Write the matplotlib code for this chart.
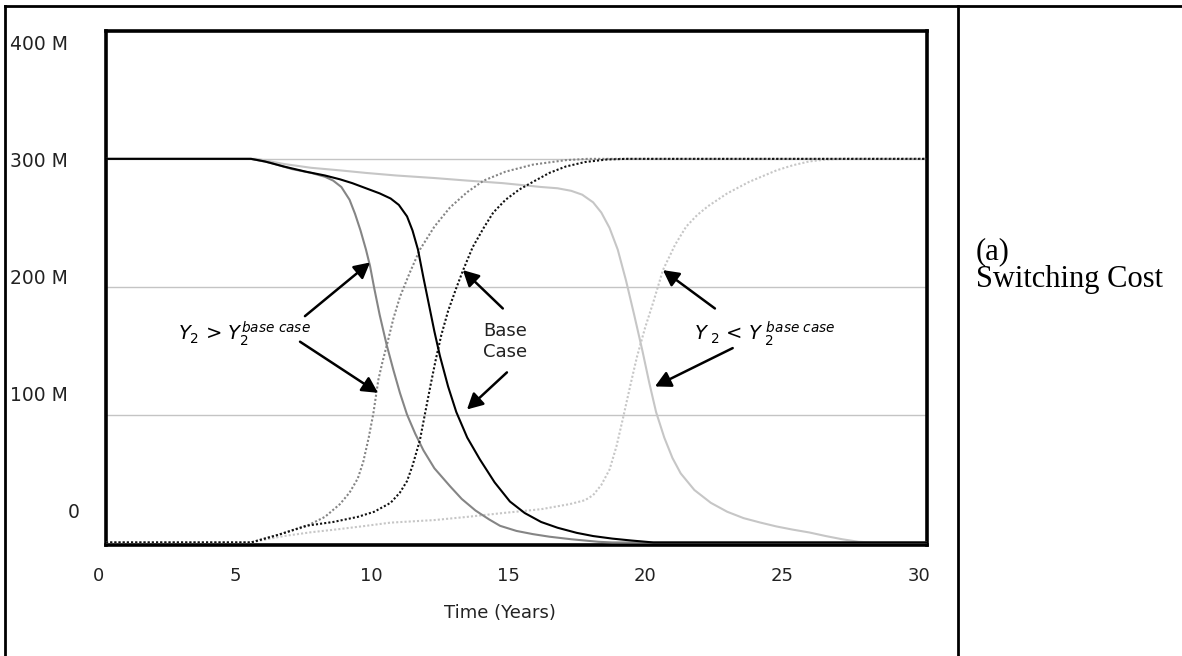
import numpy as np
import matplotlib
matplotlib.use("Agg")
import matplotlib.pyplot as plt
from matplotlib.lines import Line2D
from matplotlib.transforms import ScaledTranslation

plt.rcParams['font.family'] = ['DejaVu Sans']
plt.rcParams['mathtext.fontset'] = 'custom'
plt.rcParams['mathtext.it'] = 'DejaVu Sans:italic'
plt.rcParams['mathtext.rm'] = 'DejaVu Sans'
plt.rcParams['mathtext.sf'] = 'DejaVu Sans'

# ---------------- data (values in millions, time in years) ----------------
base_down_t = [0, 5.3, 5.8, 6.5, 7.3, 8.0, 8.55, 9.0, 9.5, 10.0, 10.4, 10.7, 11.0, 11.2, 11.4,
               11.6, 11.8, 12.0, 12.2, 12.5, 12.8, 13.2, 13.66, 14.2, 14.76, 15.3, 15.9, 16.5,
               17.2, 17.8, 18.5, 19.2, 20.0, 30]
base_down_v = [300, 300, 298, 294, 290, 287, 284, 281, 277, 273, 269, 264, 255, 244, 229,
               207, 186, 165, 146, 122, 102, 82, 65, 47, 32, 23, 16, 11.5,
               7.5, 5, 3, 1.5, 0, 0]

high_down_t = [0, 5.3, 6.0, 6.8, 7.5, 8.0, 8.3, 8.6, 8.9, 9.1, 9.3, 9.5, 9.65, 9.8, 10.0,
               10.25, 10.5, 10.74, 11.0, 11.3, 11.6, 12.0, 12.57, 13.0, 13.5, 14.0, 14.4,
               15.0, 15.6, 16.2, 17.0, 18.0, 18.5, 30]
high_down_v = [300, 300, 297, 292, 289, 286, 283, 278, 268, 257, 244, 229, 216, 199, 178,
               155, 135, 117, 100, 85, 72, 58, 44, 34, 25, 18, 13,
               9, 6.5, 4.5, 2.5, 0.5, 0, 0]

low_down_t = [0, 5.5, 6.0, 6.5, 7.5, 8.55, 9.5, 10.6, 12.0, 13.2, 14.5, 15.9, 16.5, 17.0,
              17.4, 17.8, 18.1, 18.4, 18.7, 19.0, 19.3, 19.6, 19.85, 20.1, 20.4, 20.7, 21.0,
              21.5, 22.1, 22.7, 23.3, 23.9, 24.5, 25.1, 25.7, 26.3, 26.9, 27.5, 28.0, 30]
low_down_v = [300, 300, 298, 296, 293, 291, 289, 287, 285, 283, 281, 278, 277, 275,
              272, 266, 258, 246, 229, 205, 178, 150, 125, 102, 82, 66, 54,
              41, 31, 24, 19, 15.6, 12.5, 10, 7.8, 5, 2.5, 0.5, 0, 0]

base_up_t = [0, 5.3, 5.8, 6.3, 7.3, 8.3, 9.2, 9.8, 10.4, 10.74, 11.0, 11.2, 11.47, 11.65,
             11.85, 12.05, 12.25, 12.5, 12.8, 13.05, 13.4, 13.8, 14.15, 14.6, 15.1, 15.6,
             16.2, 16.8, 17.5, 18.3, 19.0, 30]
base_up_v = [0, 0, 3, 6, 13, 16, 20, 24, 31, 39, 48, 60, 80, 100,
             122, 143, 162, 181, 199, 213, 231, 246, 258, 268, 276, 282,
             289, 294, 297.5, 299.5, 300, 300]

high_up_t = [0, 5.3, 5.8, 6.3, 7.3, 8.0, 8.55, 8.9, 9.2, 9.4, 9.6, 9.77, 9.95, 10.1, 10.27,
             10.5, 10.74, 11.1, 11.47, 12.0, 12.57, 13.2, 13.8, 14.6, 15.6, 16.8, 17.6, 30]
high_up_v = [0, 0, 3, 6, 12.5, 20, 30, 39, 50, 63, 82, 101, 127, 141, 155,
             175, 192, 211, 229, 247, 262, 274, 283, 290, 295.5, 299, 300, 300]

low_up_t = [0, 5.3, 6.0, 6.5, 7.5, 8.55, 9.5, 10.4, 12.0, 13.2, 14.5, 15.9, 16.95, 17.5,
            17.8, 18.1, 18.4, 18.65, 18.9, 19.15, 19.4, 19.7, 20.0, 20.35, 20.8, 21.2, 21.6,
            22.0, 22.7, 23.5, 24.5, 25.1, 25.7, 26.3, 26.9, 30]
low_up_v = [0, 0, 3, 5, 8, 10.5, 13, 15.5, 17.5, 20, 23, 26, 30, 33,
            37, 45, 57, 75, 98, 122, 145, 168, 188, 213, 233, 247, 256,
            263, 273, 282, 291, 295, 298, 299.5, 300, 300]

x_ticks = [0, 5, 10, 15, 20, 25, 30]
y_grid = [100, 200, 300]
y_labels = ["400 M", "300 M", "200 M", "100 M", "0"]

# ---------------- figure ----------------
W, H = 1182, 656
fig = plt.figure(figsize=(W / 100, H / 100), dpi=100)
fig.patch.set_facecolor('white')

# table-like frame
fig.add_artist(Line2D([5 / W, 1], [1 - 6 / H, 1 - 6 / H], transform=fig.transFigure, color='black', lw=2))
fig.add_artist(Line2D([5 / W, 5 / W], [0, 1 - 6 / H], transform=fig.transFigure, color='black', lw=2))
fig.add_artist(Line2D([958 / W, 958 / W], [0, 1 - 6 / H], transform=fig.transFigure, color='black', lw=2))

ax = fig.add_axes([106 / W, (H - 545) / H, 821 / W, 514 / H])
ax.set_xlim(0, 30)
ax.set_ylim(-2, 400)

for g in y_grid:
    ax.axhline(g, color='#c4c4c4', lw=1, zorder=1)

DARK = '#858585'
LIGHT = '#c6c6c6'
dots = (0, (1, 1))

ax.plot(low_up_t, low_up_v, color=LIGHT, lw=1.5, ls=dots, zorder=2)
ax.plot(low_down_t, low_down_v, color=LIGHT, lw=1.5, zorder=2)
ax.plot(high_up_t, high_up_v, color=DARK, lw=1.5, ls=dots, zorder=3)
ax.plot(high_down_t, high_down_v, color=DARK, lw=1.5, zorder=3)
ax.plot(base_up_t, base_up_v, color='#111111', lw=1.5, ls=dots, zorder=4)
ax.plot(base_down_t, base_down_v, color='black', lw=1.5, zorder=4)

for s in ax.spines.values():
    s.set_linewidth(2.6)
    s.set_color('black')

ax.set_yticks([])
ax.set_xticks(x_ticks)
ax.set_xticklabels([str(v) for v in x_ticks])
ax.tick_params(axis='x', length=0, pad=15.5, labelsize=13, colors='#222222')
off = ScaledTranslation(-8 / 100, 0, fig.dpi_scale_trans)
for lab in ax.get_xticklabels():
    lab.set_transform(lab.get_transform() + off)

# y labels (Vensim-style placement)
ylab_pos = np.linspace(45, 512, len(y_labels))
for lab, yp in zip(y_labels, ylab_pos):
    if lab == "0":
        fig.text(80 / W, 1 - yp / H, lab, ha='right', va='center', fontsize=13.5, color='#222222')
    else:
        fig.text(10 / W, 1 - yp / H, lab, ha='left', va='center', fontsize=13.5, color='#222222')

fig.text(500 / W, 1 - 613 / H, "Time (Years)", ha='center', va='center', fontsize=13, color='#222222')

# annotations
arrow_kw = dict(arrowstyle='-|>,head_length=0.95,head_width=0.5', color='black', lw=1.8,
                shrinkA=0, shrinkB=0)
ax.annotate('', xy=(9.65, 219), xytext=(7.27, 177), arrowprops=arrow_kw)
ax.annotate('', xy=(9.94, 117), xytext=(7.09, 157), arrowprops=arrow_kw)
ax.annotate('', xy=(13.04, 213), xytext=(14.5, 183), arrowprops=arrow_kw)
ax.annotate('', xy=(13.19, 104), xytext=(14.65, 133), arrowprops=arrow_kw)
ax.annotate('', xy=(20.35, 213), xytext=(22.25, 183), arrowprops=arrow_kw)
ax.annotate('', xy=(20.06, 122), xytext=(22.9, 152), arrowprops=arrow_kw)

ax.text(2.63, 163, r'$Y_2$ > $Y_2^{base\ case}$', ha='left', va='center', fontsize=14)
ax.text(14.58, 157, "Base\nCase", ha='center', va='center', fontsize=13, linespacing=1.25,
        color='#222222')
ax.text(21.5, 163, r'$Y_{\ 2}$ < $Y_{\ 2}^{\ base\ case}$', ha='left', va='center', fontsize=14)

# right cell caption
fig.text(976 / W, 1 - 259 / H, "(a)", ha='left', va='baseline', fontsize=22,
         family='Liberation Serif')
fig.text(976 / W, 1 - 287 / H, "Switching Cost", ha='left', va='baseline', fontsize=22,
         family='Liberation Serif')

fig.savefig("out.png", dpi=100, facecolor='white')
